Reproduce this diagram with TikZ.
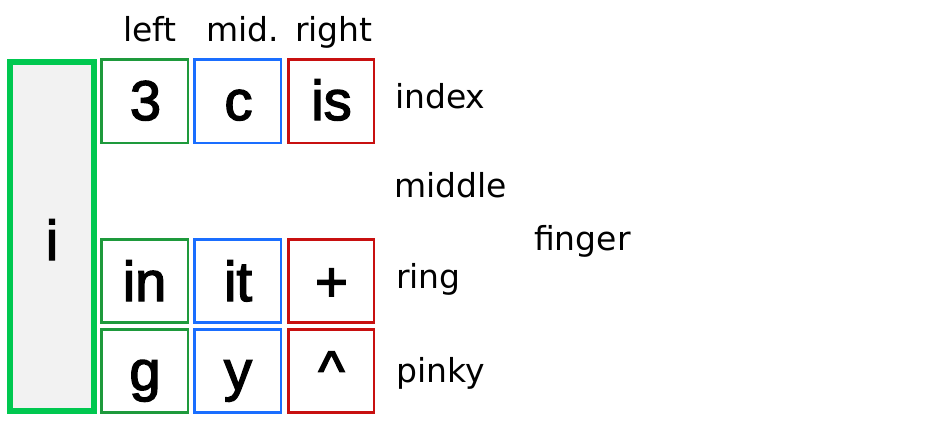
\documentclass[tikz,border=0pt]{standalone}
\usepackage{fontspec}
\setmainfont{DejaVu Sans}
\newfontfamily\keyfont{Liberation Sans}[FakeBold=2.5,AutoFakeBold=2.5]
\usetikzlibrary{shapes.misc}
\definecolor{bigG}{HTML}{00C850}
\definecolor{kG}{HTML}{1E9A3C}
\definecolor{kB}{HTML}{1A6EFF}
\definecolor{kR}{HTML}{C81010}
\definecolor{bigfill}{HTML}{F2F2F2}
\tikzset{
  keybox/.style={chamfered rectangle, chamfered rectangle corners=north west,
    chamfered rectangle xsep=2.5pt, chamfered rectangle ysep=2.5pt,
    inner sep=0pt, outer sep=0pt, line width=2.5pt, fill=white,
    minimum width=86.5pt, minimum height=83.5pt},
  bigbox/.style={chamfered rectangle, chamfered rectangle corners=north west,
    chamfered rectangle xsep=3.5pt, chamfered rectangle ysep=3.5pt,
    inner sep=0pt, outer sep=0pt, line width=5.5pt, draw=bigG, fill=bigfill,
    minimum width=84pt, minimum height=349pt},
  keytext/.style={anchor=base, inner sep=0pt, font=\keyfont\bfseries\fontsize{56}{60}\selectfont},
  lbl/.style={anchor=base west, inner sep=0pt, font=\fontsize{33}{38}\selectfont},
  hdr/.style={anchor=base, inner sep=0pt, font=\fontsize{33}{38}\selectfont}
}
\begin{document}
\begin{tikzpicture}[x=1pt,y=-1pt]
\useasboundingbox (0,0) rectangle (932,423);
\node[bigbox] (big) at (52,236.5) {};
\node[keytext] (bigt) at (52,260) {i};
% row 1
\node[keybox,draw=kG] (k11) at (144.75,101.25) {};
\node[keybox,draw=kB] (k12) at (237.75,101.25) {};
\node[keybox,draw=kR,minimum width=85.5pt] (k13) at (331.25,101.25) {};
% row 2
\node[keybox,draw=kG,minimum height=83pt] (k21) at (144.75,281) {};
\node[keybox,draw=kB,minimum height=83pt] (k22) at (237.75,281) {};
\node[keybox,draw=kR,minimum width=85.5pt,minimum height=83pt] (k23) at (331.25,281) {};
% row 3
\node[keybox,draw=kG,minimum height=83pt] (k31) at (144.75,371) {};
\node[keybox,draw=kB,minimum height=83pt] (k32) at (237.75,371) {};
\node[keybox,draw=kR,minimum width=85.5pt,minimum height=83pt] (k33) at (331.25,371) {};
% key texts
\node[keytext] (t11) at (145.5,120) {3};
\node[keytext] (t12) at (238.5,120) {c};
\node[keytext] (t13) at (331.5,120) {is};
\node[keytext] (t21) at (144.5,301) {in};
\node[keytext] (t22) at (238,301) {it};
\node[keytext] (t23) at (331.5,301) {+};
\node[keytext] (t31) at (145,390) {g};
\node[keytext] (t32) at (238,390) {y};
\node[keytext] (t33) at (331.5,390) {\string^};
% headers
\node[hdr] (hl) at (150,41) {left};
\node[hdr] (hm) at (243,41) {mid.};
\node[hdr] (hr) at (334,41) {right};
% finger labels
\node[lbl] (lindex) at (395,108) {index};
\node[lbl] (lmiddle) at (394,197) {middle};
\node[lbl] (lring) at (396,288) {ring};
\node[lbl] (lpinky) at (396,382) {pinky};
\node[lbl] (lfinger) at (534,250) {finger};
\end{tikzpicture}
\end{document}
